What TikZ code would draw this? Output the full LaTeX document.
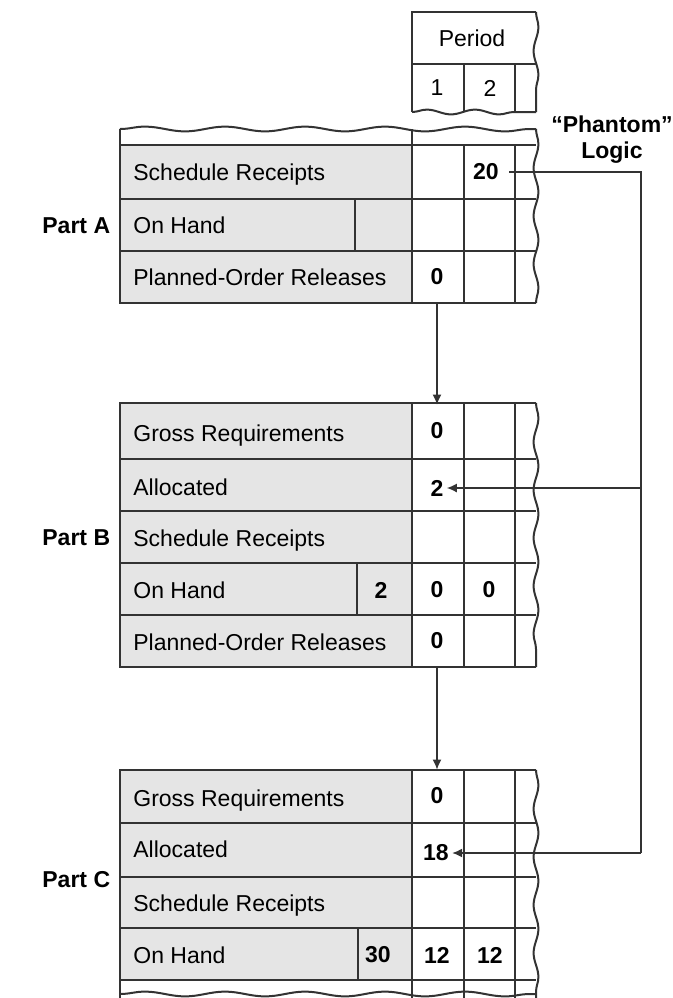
\documentclass[tikz,border=0pt]{standalone}
\usepackage{fontspec}
\setmainfont{Liberation Sans}
\usetikzlibrary{arrows.meta,decorations.pathmorphing}

\begin{document}
\begin{tikzpicture}[
        x=0.5pt, y=-0.5pt,
        grid/.style={draw=black!80, line width=1pt},
        wavy/.style={grid, decorate,
            decoration={snake, segment length=24pt, amplitude=1.2pt}},
        longwavy/.style={grid, decorate,
            decoration={snake, segment length=40pt, amplitude=1.2pt}},
        shade/.style={fill=black!10},
        rowtext/.style={anchor=base west, inner sep=0pt,
            font=\fontsize{11.5}{13}\selectfont},
        plain/.style={inner sep=0pt, font=\fontsize{11.5}{13}\selectfont},
        num/.style={inner sep=0pt, font=\fontsize{11.5}{13}\selectfont\bfseries},
        cellnum/.style={num, minimum height=26pt},
        partlabel/.style={anchor=west, inner sep=0pt,
            font=\fontsize{11.5}{13}\selectfont\bfseries},
        link/.style={draw=black!80, line width=0.75pt},
        arrow/.style={link, -{Latex[length=5pt, width=4.5pt]}}
    ]
    \useasboundingbox (0,0) rectangle (673,998);

    % period header
    \draw[grid] (536,12) -- (412,12) -- (412,112);
    \draw[wavy] (536,12) -- (536,112);
    \draw[wavy] (412,112) -- (536,112);
    \draw[grid] (412,64) -- (536,64) (464,64) -- (464,112) (515,64) -- (515,112);
    \node[plain] (period) at (472,38) {Period};
    \node[plain] (p1) at (437,88) {1};
    \node[plain] (p2) at (490,88) {2};

    % part A
    \fill[shade] (120,145) rectangle (412,303);
    \draw[longwavy] (120,129) -- (536,129);
    \draw[grid] (120,129) -- (120,303) -- (536,303);
    \draw[wavy] (536,129) -- (536,303);
    \draw[grid] (120,145) -- (536,145) (120,199) -- (536,199) (120,251) -- (536,251);
    \draw[grid] (412,129) -- (412,303) (464,145) -- (464,303) (515,145) -- (515,303)
        (355,199) -- (355,251);
    \node[partlabel] (partA) at (42,226) {Part A};
    \node[rowtext] (asr) at (133,180) {Schedule Receipts};
    \node[rowtext] (aoh) at (133,233) {On Hand};
    \node[rowtext] (apor) at (133,285) {Planned-Order Releases};
    \node[num] (a20) at (486,172) {20};
    \node[cellnum] (a0) at (437,277) {0};

    % part B
    \fill[shade] (120,403) rectangle (412,667);
    \draw[grid] (536,403) -- (120,403) -- (120,667) -- (536,667);
    \draw[wavy] (536,403) -- (536,667);
    \draw[grid] (120,459) -- (536,459) (120,511) -- (536,511)
        (120,563) -- (536,563) (120,615) -- (536,615);
    \draw[grid] (412,403) -- (412,667) (464,403) -- (464,667) (515,403) -- (515,667)
        (357,563) -- (357,615);
    \node[partlabel] (partB) at (42,538) {Part B};
    \node[rowtext] (bgr) at (133,441) {Gross Requirements};
    \node[rowtext] (bal) at (133,495) {Allocated};
    \node[rowtext] (bsr) at (133,546) {Schedule Receipts};
    \node[rowtext] (boh) at (133,598) {On Hand};
    \node[rowtext] (bpor) at (133,650) {Planned-Order Releases};
    \node[cellnum] (b0) at (437,431) {0};
    \node[num] (b2) at (437,488) {2};
    \node[num] (bstock) at (381,590) {2};
    \node[num] (boh1) at (437,590) {0};
    \node[num] (boh2) at (489,590) {0};
    \node[cellnum] (brel) at (437,641) {0};

    % part C
    \fill[shade] (120,770) rectangle (412,980);
    \draw[grid] (536,770) -- (120,770) -- (120,998);
    \draw[wavy] (536,770) -- (536,998);
    \draw[longwavy] (120,994) -- (536,994);
    \draw[grid] (120,823) -- (536,823) (120,877) -- (536,877)
        (120,928) -- (536,928) (120,980) -- (536,980);
    \draw[grid] (412,770) -- (412,998) (464,770) -- (464,998) (515,770) -- (515,998)
        (358,928) -- (358,980);
    \node[partlabel] (partC) at (42,880) {Part C};
    \node[rowtext] (cgr) at (133,806) {Gross Requirements};
    \node[rowtext] (cal) at (133,857) {Allocated};
    \node[rowtext] (csr) at (133,911) {Schedule Receipts};
    \node[rowtext] (coh) at (133,963) {On Hand};
    \node[cellnum] (c0) at (437,796) {0};
    \node[num] (c18) at (436,853) {18};
    \node[num] (cstock) at (378,955) {30};
    \node[num] (coh1) at (437,955) {12};
    \node[num] (coh2) at (490,955) {12};

    % phantom logic
    \node[num, align=center] (phantom) at (612,140) {“Phantom”\\Logic};
    \coordinate (pa) at (641,172);
    \coordinate (pb) at (641,488);
    \coordinate (pc) at (641,853);

    \draw[link, shorten <=5pt] (a20.east) -- (pa) -- (pc);
    \draw[arrow, shorten >=1.5pt] (pb) -- (b2.east);
    \draw[arrow, shorten >=1.5pt] (pc) -- (c18.east);
    \draw[arrow] (a0.south) -- (b0.north);
    \draw[arrow] (brel.south) -- (c0.north);

\end{tikzpicture}
\end{document}
